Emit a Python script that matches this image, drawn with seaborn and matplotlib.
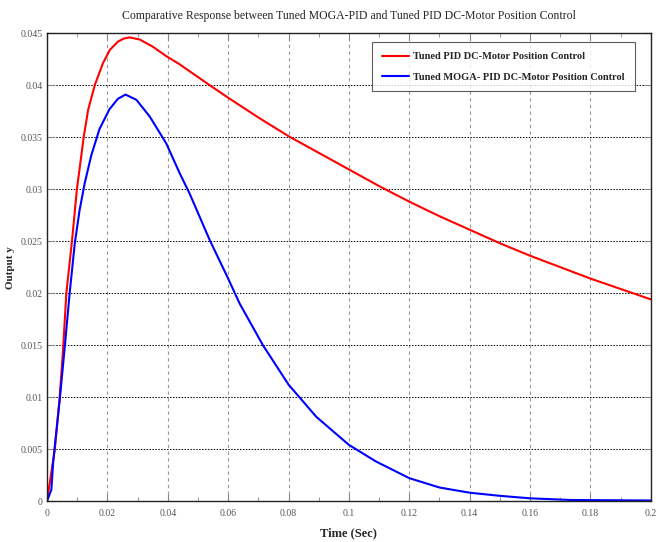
"""Comparative step response: tuned PID vs tuned MOGA-PID DC-motor position control."""

import matplotlib

matplotlib.use("Agg")
import matplotlib.pyplot as plt
import pandas as pd
import seaborn as sns
from matplotlib.ticker import FuncFormatter, MultipleLocator

# values
pid_time = [0.0, 0.00255, 0.0042, 0.0053, 0.0064, 0.0083, 0.0099, 0.0122, 0.0136,
            0.0158, 0.0185, 0.0208, 0.0235, 0.0255, 0.0274, 0.0307, 0.0351, 0.0395,
            0.0440, 0.0539, 0.06, 0.07, 0.08, 0.09, 0.1, 0.11, 0.12, 0.13, 0.14,
            0.15, 0.16, 0.17, 0.18, 0.19, 0.2]
pid_output = [0.0, 0.0049, 0.0100, 0.0145, 0.0200, 0.0251, 0.0300, 0.0351, 0.0376,
              0.0400, 0.0421, 0.0434, 0.0442, 0.0445, 0.0446, 0.0444, 0.0437, 0.0428,
              0.0420, 0.0400, 0.0388, 0.0369, 0.0351, 0.0335, 0.0319, 0.0303, 0.0288,
              0.0274, 0.0261, 0.0248, 0.0236, 0.0225, 0.0214, 0.0204, 0.0194]

moga_time = [0.0, 0.00145, 0.0020, 0.00255, 0.0042, 0.0059, 0.0075, 0.0092, 0.0108,
             0.0125, 0.0147, 0.0174, 0.0207, 0.0235, 0.0260, 0.0296, 0.0340, 0.0395,
             0.0440, 0.0472, 0.0539, 0.06, 0.0638, 0.0715, 0.08, 0.0892, 0.1, 0.109,
             0.12, 0.13, 0.14, 0.15, 0.16, 0.1735, 0.2]
moga_output = [0.0, 0.0011, 0.0036, 0.0052, 0.0097, 0.0149, 0.0200, 0.0248, 0.0280,
               0.0306, 0.0333, 0.0358, 0.0377, 0.0387, 0.0391, 0.0386, 0.0370, 0.0344,
               0.0315, 0.0296, 0.0251, 0.0214, 0.0190, 0.0150, 0.0112, 0.0081, 0.0054,
               0.0038, 0.0022, 0.0013, 0.0008, 0.0005, 0.00026, 0.0001, 0.00005]

series_labels = ["Tuned PID DC-Motor Position Control",
                 "Tuned MOGA- PID DC-Motor Position Control"]
series_colors = ["#ff0000", "#0000ff"]

sns.set_style("ticks")
plt.rcParams["font.family"] = ["Liberation Serif", "DejaVu Serif"]

fig = plt.figure(figsize=(6.65, 5.42), dpi=100)
ax = fig.add_axes([0.0707, 0.0756, 0.908, 0.863])

pid_df = pd.DataFrame({"t": pid_time, "y": pid_output})
moga_df = pd.DataFrame({"t": moga_time, "y": moga_output})
sns.lineplot(data=pid_df, x="t", y="y", ax=ax, color=series_colors[0],
             linewidth=1.5, label=series_labels[0])
sns.lineplot(data=moga_df, x="t", y="y", ax=ax, color=series_colors[1],
             linewidth=1.5, label=series_labels[1])

ax.set_xlim(0, 0.2)
ax.set_ylim(0, 0.045)
ax.xaxis.set_major_locator(MultipleLocator(0.02))
ax.xaxis.set_minor_locator(MultipleLocator(0.01))
ax.yaxis.set_major_locator(MultipleLocator(0.005))
plain = FuncFormatter(lambda v, _: f"{v:.3f}".rstrip("0").rstrip(".") if abs(v) > 1e-12 else "0")
ax.xaxis.set_major_formatter(plain)
ax.yaxis.set_major_formatter(plain)

ax.tick_params(which="both", direction="in", top=True, right=True,
               labelsize=7, labelcolor="#555555")
ax.tick_params(axis="x", pad=6)
ax.tick_params(axis="y", pad=3)
ax.tick_params(which="major", length=5, color="#888888")
ax.tick_params(which="minor", length=3, color="#888888")

ax.grid(axis="x", which="major", linestyle=(0, (3, 3)), color="#999999", linewidth=0.8)
ax.grid(axis="y", which="major", linestyle=(0, (1.5, 1.5)), color="black", linewidth=0.7)
for spine in ax.spines.values():
    spine.set_linewidth(1.0)
    spine.set_color("#222222")

ax.set_title("Comparative Response between Tuned MOGA-PID and Tuned PID DC-Motor Position Control",
             fontsize=8.5, pad=10)
ax.set_xlabel("Time (Sec)", fontsize=9, fontweight="bold")
ax.xaxis.set_label_coords(0.5, -0.056)
ax.set_ylabel("Output y", fontsize=8, fontweight="bold")
ax.yaxis.set_label_coords(-0.053, 0.5)

leg = ax.legend(loc="upper right", bbox_to_anchor=(0.9735, 0.981), borderaxespad=0,
                fontsize=7.5, frameon=True, fancybox=False, edgecolor="#333333",
                handlelength=2.6, handletextpad=0.4, borderpad=0.95, labelspacing=1.05)
leg.get_frame().set_linewidth(0.8)
for text in leg.get_texts():
    text.set_fontweight("bold")

fig.savefig("out.png", dpi=100)
plt.close(fig)
